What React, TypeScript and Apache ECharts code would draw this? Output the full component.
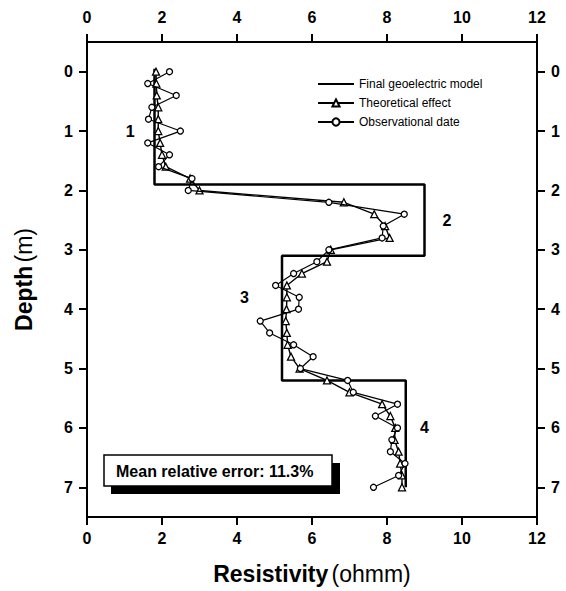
import React, { useEffect, useRef } from "react";
import * as echarts from "echarts";

const depths = [0, 0.2, 0.4, 0.6, 0.8, 1.0, 1.2, 1.4, 1.6, 1.8, 2.0, 2.2, 2.4, 2.6, 2.8, 3.0, 3.2, 3.4, 3.6, 3.8, 4.0, 4.2, 4.4, 4.6, 4.8, 5.0, 5.2, 5.4, 5.6, 5.8, 6.0, 6.2, 6.4, 6.6, 6.8, 7.0];
const theoretical = [1.84, 1.85, 1.86, 1.9, 1.9, 1.9, 1.95, 2.0, 2.1, 2.75, 3.0, 6.85, 7.66, 7.95, 8.07, 6.5, 6.4, 5.73, 5.33, 5.33, 5.32, 5.3, 5.33, 5.35, 5.44, 5.67, 6.4, 7.0, 7.87, 8.09, 8.22, 8.2, 8.31, 8.35, 8.4, 8.4];
const observed = [2.2, 1.62, 2.38, 1.73, 1.64, 2.49, 1.62, 2.2, 1.91, 2.8, 2.7, 6.45, 8.46, 7.9, 7.87, 6.45, 6.13, 5.51, 5.03, 5.66, 5.64, 4.62, 4.87, 5.51, 6.03, 5.69, 6.95, 7.1, 8.28, 7.69, 8.28, 8.13, 8.09, 8.48, 8.31, 7.64];
const modelRes = [1.8, 1.8, 9.0, 9.0, 5.2, 5.2, 8.5, 8.5];
const modelDepth = [-0.05, 1.9, 1.9, 3.1, 3.1, 5.2, 5.2, 7.0];
const layerNames = ["1", "2", "3", "4"];
const layerRes = [1.15, 9.6, 4.2, 9.0];
const layerDepth = [1.0, 2.5, 3.8, 6.0];
const depthTicks = [0, 1, 2, 3, 4, 5, 6, 7];
const errorText = "Mean relative error: 11.3%";

const FONT = "Liberation Sans, Arial, Helvetica, sans-serif";

export default function App() {
  const ref = useRef<HTMLDivElement>(null);
  useEffect(() => {
    const chart = echarts.init(ref.current!, undefined, { renderer: "svg" });
    const axisLine = { show: true, onZero: false, lineStyle: { color: "#000", width: 2 } };
    const tickLabel = { color: "#000", fontFamily: FONT, fontWeight: "bold", fontSize: 16 };
    const xBase = {
      type: "value",
      min: 0,
      max: 12,
      interval: 2,
      axisLine,
      axisTick: { show: true, inside: false, length: 8, lineStyle: { color: "#000", width: 2 } },
      splitLine: { show: false },
    };
    const yBase = {
      type: "value",
      min: -0.5,
      max: 7.5,
      inverse: true,
      axisLine,
      axisTick: { show: true, inside: false, length: 8, customValues: depthTicks, lineStyle: { color: "#000", width: 2 } },
      splitLine: { show: false },
    };
    chart.setOption({
      animation: false,
      backgroundColor: "#fff",
      grid: { left: 87, right: 29, top: 42, bottom: 74, containLabel: false },
      legend: {
        orient: "vertical",
        left: 312,
        top: 73,
        itemWidth: 36,
        itemHeight: 9,
        itemGap: 7,
        textStyle: { color: "#000", fontFamily: FONT, fontSize: 12 },
        data: [
          { name: "Final geoelectric model", itemStyle: { opacity: 0 } },
          "Theoretical effect",
          "Observational date",
        ],
      },
      xAxis: [
        {
          ...xBase,
          position: "bottom",
          axisLabel: { ...tickLabel, margin: 13 },
          name: "{b|Resistivity} {n|(ohmm)}",
          nameLocation: "middle",
          nameGap: 45,
          nameTextStyle: {
            rich: {
              b: { fontFamily: FONT, fontWeight: "bold", fontSize: 23, color: "#000" },
              n: { fontFamily: FONT, fontWeight: "normal", fontSize: 23, color: "#000" },
            },
          },
        },
        { ...xBase, position: "top", axisLabel: { ...tickLabel, margin: 17 } },
      ],
      yAxis: [
        {
          ...yBase,
          position: "left",
          axisLabel: { ...tickLabel, margin: 14, customValues: depthTicks },
          name: "{b|Depth} {n|(m)}",
          nameLocation: "middle",
          nameGap: 52,
          nameTextStyle: {
            rich: {
              b: { fontFamily: FONT, fontWeight: "bold", fontSize: 23, color: "#000" },
              n: { fontFamily: FONT, fontWeight: "normal", fontSize: 23, color: "#000" },
            },
          },
        },
        { ...yBase, position: "right", axisLabel: { ...tickLabel, margin: 14, customValues: depthTicks } },
      ],
      series: [
        {
          name: "Final geoelectric model",
          type: "line",
          symbol: "none",
          data: modelRes.map((r, i) => [r, modelDepth[i]]),
          lineStyle: { color: "#000", width: 2.5 },
          itemStyle: { color: "#000" },
          z: 2,
        },
        {
          name: "Theoretical effect",
          type: "line",
          symbol: "triangle",
          symbolSize: 7,
          data: theoretical.map((r, i) => [r, depths[i]]),
          lineStyle: { color: "#000", width: 1.4 },
          itemStyle: { color: "#fff", borderColor: "#000", borderWidth: 1.3 },
          z: 3,
        },
        {
          name: "Observational date",
          type: "line",
          symbol: "circle",
          symbolSize: 6,
          data: observed.map((r, i) => [r, depths[i]]),
          lineStyle: { color: "#000", width: 1.2 },
          itemStyle: { color: "#fff", borderColor: "#000", borderWidth: 1.3 },
          z: 4,
        },
        {
          type: "scatter",
          symbol: "circle",
          symbolSize: 1,
          itemStyle: { color: "transparent", opacity: 1 },
          data: layerNames.map((n, i) => ({ value: [layerRes[i], layerDepth[i]], name: n })),
          label: {
            show: true,
            position: "inside",
            formatter: (p: any) => p.name,
            color: "#000",
            opacity: 1,
            fontFamily: FONT,
            fontWeight: "bold",
            fontSize: 16,
          },
          silent: true,
          z: 5,
        },
      ],
      graphic: [
        { type: "rect", shape: { x: 111, y: 463, width: 229, height: 31 }, style: { fill: "#000" } },
        { type: "rect", shape: { x: 104, y: 455, width: 228, height: 31 }, style: { fill: "#fff", stroke: "#000", lineWidth: 1.5 } },
        {
          type: "text",
          x: 116,
          y: 471,
          style: { text: errorText, fill: "#000", font: `bold 16px ${FONT}`, textVerticalAlign: "middle" },
        },
      ],
    });
    return () => chart.dispose();
  }, []);
  return <div ref={ref} style={{ position: "fixed", left: 0, top: 0, width: 566, height: 591 }} />;
}
